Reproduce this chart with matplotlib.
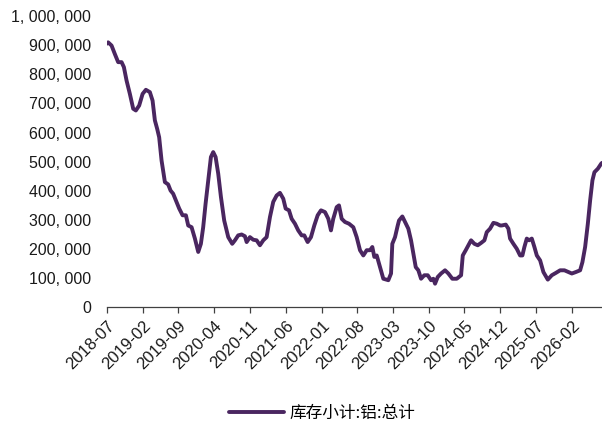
import numpy as np
import pandas as pd
import matplotlib
matplotlib.use('Agg')
import matplotlib.pyplot as plt
from matplotlib.ticker import FuncFormatter

# months since 2018-07 and inventory values
months = [0.0, 0.31, 0.98, 1.62, 2.27, 2.94, 3.39, 3.91, 4.56, 5.21, 5.73, 6.38, 7.05,
          7.69, 8.47, 9.00, 9.45, 9.90, 10.29, 10.76, 11.41, 12.05, 12.52, 13.03, 13.56,
          14.21, 14.87, 15.52, 15.97, 16.63, 17.28, 17.93, 18.45, 18.90, 19.37, 19.88,
          20.41, 20.86, 21.33, 21.84, 22.37, 23.01, 23.80, 24.58, 25.11, 25.75, 26.42,
          27.06, 27.40, 28.04, 28.69, 29.35, 30.00, 30.65, 31.31, 31.96, 32.60, 33.27,
          33.91, 34.56, 35.03, 35.68, 36.20, 36.85, 37.49, 38.16, 38.67, 39.33, 39.98,
          40.63, 41.29, 41.94, 42.72, 43.37, 43.89, 44.34, 45.01, 45.46, 45.99, 46.63,
          47.42, 48.26, 48.92, 49.57, 50.22, 50.88, 51.53, 51.98, 52.37, 52.84, 53.48,
          54.13, 55.11, 55.64, 55.89, 56.42, 56.95, 57.20, 57.85, 58.38, 59.02, 59.55,
          60.00, 60.47, 60.98, 61.51, 62.15, 62.82, 63.46, 63.91, 64.25, 64.77, 65.42,
          66.20, 66.85, 67.63, 68.49, 69.34, 69.67, 70.25, 70.76, 71.29, 71.94, 72.60,
          73.25, 73.90, 74.36, 75.01, 75.66, 76.32, 76.97, 77.30, 78.08, 78.59, 78.92,
          79.57, 80.23, 80.88, 81.33, 81.72, 82.19, 82.64, 83.17, 83.68, 84.15, 84.80,
          85.44, 86.30, 87.08, 87.87, 88.71, 89.55, 90.33, 91.00, 91.78, 92.62, 93.07,
          93.60, 94.13, 94.58, 95.03, 95.42, 96.09, 96.73, 96.90]
stock = [905, 910, 899, 870, 842, 842, 825, 779, 733, 682, 676, 693, 733,
         747, 739, 710, 642, 613, 584, 504, 430, 422, 401, 390, 367,
         339, 316, 316, 281, 275, 236, 190, 218, 275, 356, 436,
         516, 533, 516, 459, 379, 298, 241, 218, 230, 247, 250,
         244, 224, 241, 232, 230, 213, 230, 241, 310, 362, 384,
         393, 373, 339, 333, 304, 287, 264, 247, 247, 224, 241,
         281, 316, 333, 327, 304, 264, 304, 344, 350, 304, 293,
         287, 275, 241, 196, 178, 196, 196, 207, 173, 178, 138,
         98, 93, 116, 218, 241, 281, 298, 312, 293, 270, 230,
         184, 138, 127, 98, 110, 110, 93, 98, 81, 104, 116,
         127, 116, 98, 98, 110, 178, 196, 213, 230, 218, 213,
         221, 230, 258, 270, 290, 287, 281, 281, 284, 270, 236,
         218, 201, 178, 178, 207, 236, 230, 236, 207, 178, 161,
         121, 95, 110, 118, 127, 127, 121, 116, 121, 127, 155,
         207, 287, 367, 436, 464, 476, 493, 496]
stock = np.array(stock) * 1000

start = pd.Timestamp('2018-07-01')
dates = start + pd.to_timedelta(np.array(months) * 30.44, unit='D')
tick_dates = pd.date_range('2018-07-01', periods=14, freq='7MS')
tick_labels = [d.strftime('%Y-%m') for d in tick_dates]

plt.rcParams['font.family'] = ['Liberation Sans', 'DejaVu Sans']

fig = plt.figure(figsize=(6.02, 4.25), dpi=100)
ax = fig.add_axes([0.177, 0.277, 0.823, 0.685])

line_color = '#4a2660'
ax.plot(dates, stock, color=line_color, lw=2.8, solid_capstyle='round',
        label='库存小计:铝:总计')

ax.set_ylim(0, 1000000)
ax.set_yticks(np.arange(0, 1000001, 100000))
ax.yaxis.set_major_formatter(FuncFormatter(lambda v, p: f'{int(v):,}'.replace(',', ', ')))
ax.set_xlim(dates[0], dates[-1])
ax.set_xticks(tick_dates)
ax.set_xticklabels(tick_labels, rotation=45, ha='right', rotation_mode='anchor')

for s in ['top', 'right', 'left']:
    ax.spines[s].set_visible(False)
ax.spines['bottom'].set_color('#404040')
ax.spines['bottom'].set_linewidth(0.9)
ax.tick_params(axis='y', length=0, pad=11, labelsize=11.5, colors='#1a1a1a')
ax.tick_params(axis='x', length=4, width=0.9, color='#404040', pad=4,
               labelsize=12, labelcolor='#1a1a1a')

fig.legend(loc='lower center', bbox_to_anchor=(0.535, -0.028), frameon=False,
           handlelength=3.3, handletextpad=0.35,
           prop={'family': ['Noto Sans CJK SC', 'DejaVu Sans'], 'size': 12})

fig.savefig('out.png', dpi=100)
